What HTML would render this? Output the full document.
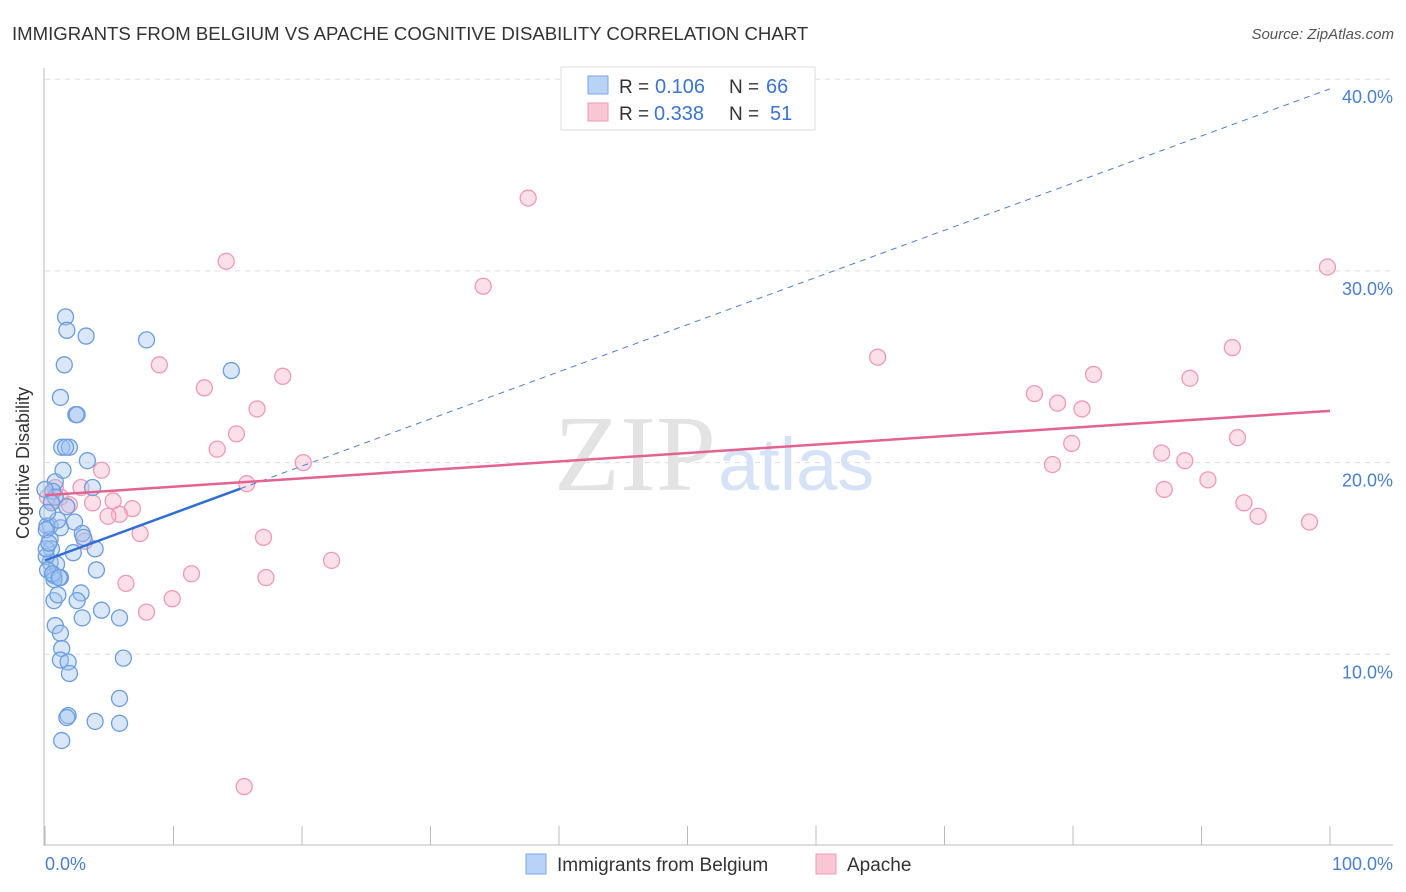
<!DOCTYPE html>
<html><head><meta charset="utf-8"><style>
body{margin:0;background:#fff;font-family:"Liberation Sans",sans-serif;}
svg{display:block}
</style></head><body>
<svg id="c" width="1406" height="892" xmlns="http://www.w3.org/2000/svg">
<text x="12" y="40" font-size="18.6" fill="#333">IMMIGRANTS FROM BELGIUM VS APACHE COGNITIVE DISABILITY CORRELATION CHART</text>
<text x="1394" y="39" font-size="15" fill="#555" font-style="italic" text-anchor="end">Source: ZipAtlas.com</text>
<g id="grid"></g>
<text x="716" y="490" font-size="108" fill="#e3e3e3" text-anchor="end" font-family="Liberation Serif">ZIP</text>
<text x="718" y="490" font-size="74" fill="#d6e2f5">atlas</text>
<g id="pts"></g>
<g id="lines"></g>
<text x="22" y="456" font-size="18" fill="#333" transform="rotate(-90 29 456)" text-anchor="middle">Cognitive Disability</text>
<text x="45" y="870" font-size="18" fill="#4a7fd0">0.0%</text>
<text x="1393" y="870" font-size="18" fill="#4a7fd0" text-anchor="end">100.0%</text>
<g>
<rect x="561" y="67" width="254" height="63" fill="#fff" stroke="#ddd"/>
<rect x="588" y="76" width="20" height="18" fill="#b9d3f7" stroke="#7aa7e8"/>
<rect x="588" y="103" width="20" height="18" fill="#f9c6d5" stroke="#ee9ab4"/>
<text x="619" y="93" font-size="19" fill="#333">R =</text>
<text x="655" y="93" font-size="20" fill="#3a74d0">0.106</text>
<text x="729" y="93" font-size="19" fill="#333">N =</text>
<text x="766" y="93" font-size="20" fill="#3a74d0">66</text>
<text x="619" y="120" font-size="19" fill="#333">R =</text>
<text x="654" y="120" font-size="20" fill="#3a74d0">0.338</text>
<text x="729" y="120" font-size="19" fill="#333">N =</text>
<text x="770" y="120" font-size="20" fill="#3a74d0">51</text>
</g>
<g>
<rect x="526" y="854" width="20" height="20" fill="#b9d3f7" stroke="#7aa7e8"/>
<text x="557" y="871" font-size="19" fill="#333">Immigrants from Belgium</text>
<rect x="816" y="854" width="20" height="20" fill="#f9c6d5" stroke="#ee9ab4"/>
<text x="847" y="871" font-size="19" fill="#333">Apache</text>
</g>
</svg>
<script>
const yTicks=[10,20,30,40];
const yTickLabels=["10.0%","20.0%","30.0%","40.0%"];
const xTicks=[0,10,20,30,40,50,60,70,80,90,100];
const blueX=[1.6,1.7,3.2,7.9,1.5,14.5,1.2,2.4,2.5,1.3,1.9,3.3,0.8,0.6,0.8,3.7,1.7,0.4,1.2,2.3,2.9,3.0,3.9,0.4,0.5,2.2,0.4,0.9,0.7,1.2,0.7,1.0,2.8,2.5,4.0,2.9,4.4,5.8,0.8,1.2,1.3,1.2,1.8,1.9,6.1,5.8,1.8,1.7,3.9,5.8,1.3,0.1,0.1,0.2,0.7,0.15,0.1,0,0.5,1.0,1.4,1.6,0.3,0.6,0.2,1.1];
const blueY=[27.6,26.9,26.6,26.4,25.1,24.8,23.4,22.5,22.5,20.8,20.8,20.1,19.0,18.5,18.2,18.7,17.7,16.7,16.6,16.9,16.3,16.1,15.5,16.0,15.5,15.3,14.8,14.7,14.1,14.0,12.8,13.1,13.2,12.8,14.4,11.9,12.3,11.9,11.5,11.1,10.3,9.7,9.6,9.0,9.8,7.7,6.8,6.7,6.5,6.4,5.5,15.1,15.5,14.4,13.9,16.7,16.5,18.6,17.9,17.0,19.6,20.8,15.8,14.2,17.4,14.0];
const pinkX=[37.6,14.1,34.1,99.8,8.9,64.8,12.4,18.5,77.0,81.6,89.1,92.4,78.8,80.7,16.5,14.9,13.4,79.9,92.8,78.4,86.9,88.7,20.1,15.7,4.4,87.1,90.5,2.8,0.8,1.2,0.5,1.9,3.7,5.3,6.8,5.8,4.9,93.3,94.4,98.4,7.4,17.0,3.1,22.3,6.3,17.2,11.4,9.9,7.9,15.5,0.2];
const pinkY=[33.8,30.5,29.2,30.2,25.1,25.5,23.9,24.5,23.6,24.6,24.4,26.0,23.1,22.8,22.8,21.5,20.7,21.0,21.3,19.9,20.5,20.1,20.0,18.9,19.6,18.6,19.1,18.7,18.7,18.2,18.0,17.8,17.9,18.0,17.6,17.3,17.2,17.9,17.2,16.9,16.3,16.1,15.9,14.9,13.7,14.0,14.2,12.9,12.2,3.1,18.2];
const blueLine=[14.9,39.5];
const blueSolidEnd=15.2;
const pinkLine=[18.3,22.7];
const X=v=>45+v*12.85, Y=v=>846-v*19.17;
const NS="http://www.w3.org/2000/svg";
function mk(t,a,p){const e=document.createElementNS(NS,t);for(const k in a)e.setAttribute(k,a[k]);p.appendChild(e);return e;}
const g=document.getElementById('grid');
yTicks.forEach((t,i)=>{
 const l=mk('line',{x1:45,x2:1393,y1:Y(t),y2:Y(t),stroke:'#ddd','stroke-dasharray':'5,5'},g);
 
 
 const tx=mk('text',{x:1393,y:Y(t)+24,'font-size':18,fill:'#4a7fd0','text-anchor':'end'},g);
 tx.textContent=yTickLabels[i];
 
 
});
mk('line',{x1:44,x2:44,y1:68,y2:846,stroke:'#bbb'},g);
mk('line',{x1:44,x2:1393,y1:845,y2:845,stroke:'#bbb'},g);
xTicks.forEach(t=>{
 const l=mk('line',{x1:X(t),x2:X(t),y1:826,y2:845,stroke:'#bbb'},g);
 
 
});
const p=document.getElementById('pts');
pinkX.forEach((v,i)=>{
 const c=mk('circle',{cx:X(v),cy:Y(pinkY[i]),r:8,fill:'rgba(247,178,199,0.4)',stroke:'#ef9ab5','stroke-width':1.3},p);
 
 
});
blueX.forEach((v,i)=>{
 const c=mk('circle',{cx:X(v),cy:Y(blueY[i]),r:8,fill:'rgba(160,195,240,0.4)',stroke:'#6b9de0','stroke-width':1.3},p);
 
 
});
const L=document.getElementById('lines');
const bAt=x=>blueLine[0]+(blueLine[1]-blueLine[0])*x/100;
let e=mk('line',{x1:X(blueSolidEnd),y1:Y(bAt(blueSolidEnd)),x2:X(100),y2:Y(bAt(100)),stroke:'#4a80d8','stroke-width':1,'stroke-dasharray':'6,5'},L);


e=mk('line',{x1:X(0),y1:Y(bAt(0)),x2:X(blueSolidEnd),y2:Y(bAt(blueSolidEnd)),stroke:'#2f6fd6','stroke-width':2.5},L);


e=mk('line',{x1:X(0),y1:Y(pinkLine[0]),x2:X(100),y2:Y(pinkLine[1]),stroke:'#e4638e','stroke-width':2.5},L);


</script>
</body></html>
